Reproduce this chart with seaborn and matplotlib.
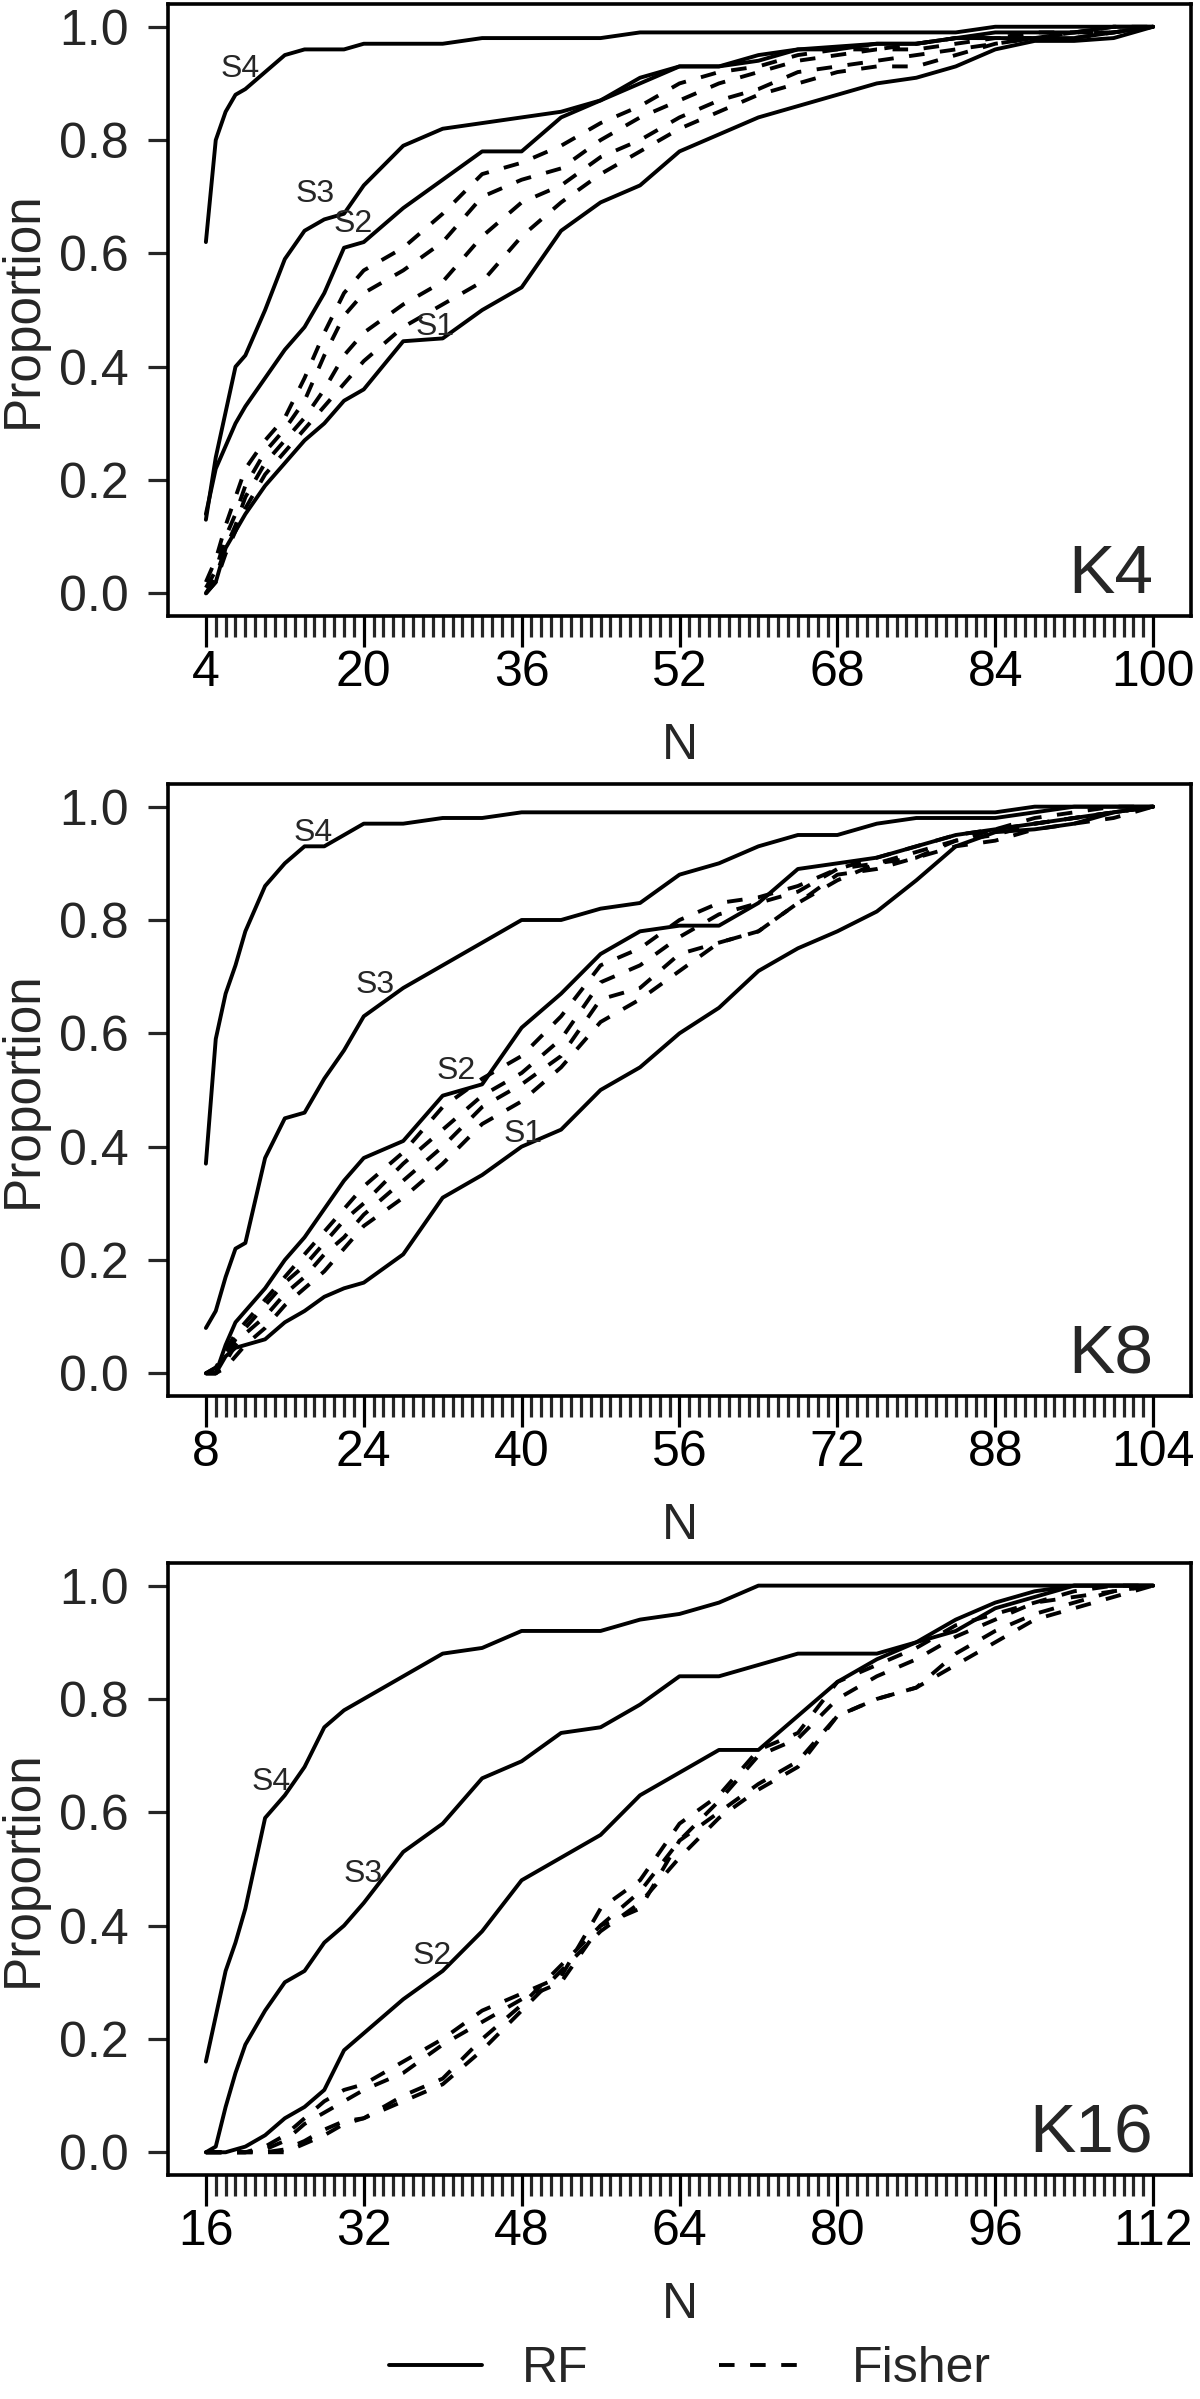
import numpy as np
import pandas as pd
import matplotlib as mpl
mpl.use("Agg")
import matplotlib.pyplot as plt
import seaborn as sns
from matplotlib.lines import Line2D
from matplotlib.ticker import FormatStrFormatter

# ---- data ----
n_k4 = [4, 5, 6, 7, 8, 10, 12, 14, 16, 18, 20, 24, 28, 32, 36, 40, 44, 48, 52, 56,
        60, 64, 68, 72, 76, 80, 84, 88, 92, 96, 100]
k4_rf_s4 = [.62, .80, .85, .88, .89, .92, .95, .96, .96, .96, .97, .97, .97, .98, .98, .98,
            .98, .99, .99, .99, .99, .99, .99, .99, .99, .99, 1.0, 1.0, 1.0, 1.0, 1.0]
k4_rf_s3 = [.13, .24, .32, .40, .42, .50, .59, .64, .66, .67, .72, .79, .82, .83, .84, .85,
            .87, .91, .93, .93, .94, .96, .965, .97, .97, .98, .99, .99, .99, 1.0, 1.0]
k4_rf_s2 = [.14, .22, .26, .30, .33, .38, .43, .47, .53, .61, .62, .68, .73, .78, .78, .84,
            .87, .90, .93, .93, .95, .96, .96, .97, .97, .98, .98, .98, .98, .99, 1.0]
k4_rf_s1 = [0, .02, .08, .11, .14, .19, .23, .27, .30, .34, .36, .445, .45, .50, .54, .64,
            .69, .72, .78, .81, .84, .86, .88, .90, .91, .93, .96, .975, .975, .98, 1.0]
k4_fi_a = [.02, .06, .12, .17, .22, .27, .31, .38, .46, .53, .57, .61, .67, .74, .76, .79,
           .83, .86, .90, .92, .93, .95, .96, .96, .97, .98, .98, .99, .99, 1.0, 1.0]
k4_fi_b = [.01, .04, .10, .14, .19, .25, .29, .34, .42, .49, .53, .57, .62, .70, .73, .75,
           .80, .84, .87, .90, .92, .94, .95, .96, .96, .97, .98, .98, .99, .99, 1.0]
k4_fi_c = [0, .03, .08, .12, .17, .23, .27, .31, .36, .42, .46, .51, .55, .63, .69, .72,
           .77, .80, .84, .87, .89, .92, .93, .94, .95, .96, .97, .98, .99, .99, 1.0]
k4_fi_d = [0, .02, .07, .11, .15, .21, .25, .29, .33, .37, .41, .47, .51, .55, .63, .69,
           .74, .78, .82, .85, .88, .90, .92, .93, .93, .95, .97, .98, .98, .99, 1.0]

n_k8 = [8, 9, 10, 11, 12, 14, 16, 18, 20, 22, 24, 28, 32, 36, 40, 44, 48, 52, 56, 60,
        64, 68, 72, 76, 80, 84, 88, 92, 96, 100, 104]
k8_rf_s4 = [.37, .59, .67, .72, .78, .86, .90, .93, .93, .95, .97, .97, .98, .98, .99, .99,
            .99, .99, .99, .99, .99, .99, .99, .99, .99, .99, .99, 1.0, 1.0, 1.0, 1.0]
k8_rf_s3 = [.08, .11, .17, .22, .23, .38, .45, .46, .52, .57, .63, .68, .72, .76, .80, .80,
            .82, .83, .88, .90, .93, .95, .95, .97, .98, .98, .98, .99, 1.0, 1.0, 1.0]
k8_rf_s2 = [0, 0, .05, .09, .11, .15, .20, .24, .29, .34, .38, .41, .49, .51, .61, .67,
            .74, .78, .79, .79, .83, .89, .90, .91, .93, .95, .96, .97, .98, .99, 1.0]
k8_rf_s1 = [0, 0, .03, .045, .05, .06, .09, .11, .135, .15, .16, .21, .31, .35, .40, .43,
            .50, .54, .60, .645, .71, .75, .78, .815, .87, .93, .955, .96, .97, .99, 1.0]
k8_fi_a = [0, .01, .04, .07, .09, .13, .17, .21, .25, .29, .33, .39, .47, .52, .56, .63,
           .72, .75, .80, .83, .84, .86, .89, .91, .93, .95, .96, .98, .99, 1.0, 1.0]
k8_fi_b = [0, .01, .03, .06, .08, .12, .16, .19, .23, .27, .30, .37, .43, .49, .53, .59,
           .69, .72, .77, .81, .83, .85, .89, .90, .92, .94, .96, .97, .98, .99, 1.0]
k8_fi_c = [0, 0, .02, .05, .07, .10, .14, .17, .21, .24, .28, .34, .40, .47, .51, .56,
           .66, .68, .74, .76, .78, .83, .87, .90, .91, .94, .95, .97, .98, .99, 1.0]
k8_fi_d = [0, 0, .01, .03, .05, .08, .12, .15, .18, .22, .26, .31, .37, .44, .48, .54,
           .62, .66, .71, .76, .78, .83, .88, .89, .91, .93, .94, .96, .97, .98, 1.0]

n_k16 = [16, 17, 18, 19, 20, 22, 24, 26, 28, 30, 32, 36, 40, 44, 48, 52, 56, 60, 64, 68,
         72, 76, 80, 84, 88, 92, 96, 100, 104, 108, 112]
k16_rf_s4 = [.16, .24, .32, .37, .43, .59, .63, .68, .75, .78, .80, .84, .88, .89, .92, .92,
             .92, .94, .95, .97, 1.0, 1.0, 1.0, 1.0, 1.0, 1.0, 1.0, 1.0, 1.0, 1.0, 1.0]
k16_rf_s3 = [0, .01, .08, .14, .19, .25, .30, .32, .37, .40, .44, .53, .58, .66, .69, .74,
             .75, .79, .84, .84, .86, .88, .88, .88, .90, .92, .96, .98, 1.0, 1.0, 1.0]
k16_rf_s2 = [0, 0, 0, .005, .01, .03, .06, .08, .11, .18, .21, .27, .32, .39, .48, .52,
             .56, .63, .67, .71, .71, .77, .83, .87, .90, .94, .97, .99, 1.0, 1.0, 1.0]
k16_fi_a = [0, 0, 0, 0, 0, .01, .03, .06, .09, .11, .12, .16, .20, .25, .28, .31,
            .43, .48, .58, .63, .71, .74, .83, .86, .89, .93, .95, .97, .99, 1.0, 1.0]
k16_fi_b = [0, 0, 0, 0, 0, .005, .02, .05, .07, .09, .11, .14, .19, .23, .27, .30,
            .40, .46, .55, .62, .70, .73, .80, .84, .87, .91, .94, .97, .98, .99, 1.0]
k16_fi_c = [0, 0, 0, 0, 0, 0, .005, .02, .04, .055, .06, .10, .13, .20, .26, .33,
            .40, .43, .55, .60, .65, .69, .77, .80, .82, .88, .92, .95, .97, .99, 1.0]
k16_fi_d = [0, 0, 0, 0, 0, 0, 0, .015, .03, .05, .06, .09, .12, .18, .25, .32,
            .39, .44, .52, .59, .64, .68, .77, .80, .82, .86, .90, .94, .96, .98, 1.0]

# curve labels (N, proportion)
k4_labels = {"S4": (7.5, .926), "S3": (15.1, .705), "S2": (18.9, .652), "S1": (27.2, .47)}
k8_labels = {"S4": (18.9, .954), "S3": (25.1, .686), "S2": (33.4, .533), "S1": (40.1, .422)}
k16_labels = {"S4": (22.6, .654), "S3": (31.9, .491), "S2": (38.9, .346)}

panels = [
    ("K4", 4, n_k4,
     {"RF_S4": k4_rf_s4, "RF_S3": k4_rf_s3, "RF_S2": k4_rf_s2, "RF_S1": k4_rf_s1,
      "Fisher_a": k4_fi_a, "Fisher_b": k4_fi_b, "Fisher_c": k4_fi_c, "Fisher_d": k4_fi_d},
     k4_labels),
    ("K8", 8, n_k8,
     {"RF_S4": k8_rf_s4, "RF_S3": k8_rf_s3, "RF_S2": k8_rf_s2, "RF_S1": k8_rf_s1,
      "Fisher_a": k8_fi_a, "Fisher_b": k8_fi_b, "Fisher_c": k8_fi_c, "Fisher_d": k8_fi_d},
     k8_labels),
    ("K16", 16, n_k16,
     {"RF_S4": k16_rf_s4, "RF_S3": k16_rf_s3, "RF_S2": k16_rf_s2,
      "Fisher_a": k16_fi_a, "Fisher_b": k16_fi_b, "Fisher_c": k16_fi_c, "Fisher_d": k16_fi_d},
     k16_labels),
]

sns.set_theme(style="ticks")
plt.rcParams["font.family"] = ["Liberation Sans", "DejaVu Sans"]
plt.rcParams["axes.linewidth"] = 2.6

LW = 2.8
DASH = (4, 4)
fig = plt.figure(figsize=(12, 23.99), dpi=100)
bottoms = [0.7432, 0.4181, 0.0934]

for (name, k, nvals, curves, labels), bot in zip(panels, bottoms):
    ax = fig.add_axes([0.14, bot, 0.8525, 0.2551])
    rows = []
    for cname, vals in curves.items():
        method = cname.split("_")[0]
        for n, v in zip(nvals, vals):
            rows.append({"N": n, "Proportion": v, "curve": cname, "method": method})
    df = pd.DataFrame(rows)
    sns.lineplot(data=df, x="N", y="Proportion", units="curve", estimator=None,
                 style="method", dashes={"RF": "", "Fisher": DASH},
                 color="black", lw=LW, legend=False, ax=ax, sort=False)

    ax.set_xlim(k - 3.84, k + 99.84)
    ax.set_ylim(-0.04, 1.04)
    ax.set_xticks(list(range(k, k + 97, 16)))
    ax.set_xticks(list(range(k, k + 97)), minor=True)
    ax.set_yticks([0, .2, .4, .6, .8, 1.0])
    ax.yaxis.set_major_formatter(FormatStrFormatter("%.1f"))
    ax.tick_params(axis="x", which="major", length=22.5, width=2.3, labelsize=36, pad=2,
                   direction="out", colors="black")
    ax.tick_params(axis="x", which="minor", length=15, width=2.3, direction="out")
    ax.tick_params(axis="y", length=14.4, width=2.3, labelsize=36, pad=14, direction="out")
    for sp in ax.spines.values():
        sp.set_visible(True)
        sp.set_linewidth(2.6)
        sp.set_color("black")

    ax.set_xlabel("")
    ax.text(0.5, -0.2124, "N", transform=ax.transAxes, ha="center", va="center",
            fontsize=36)
    ax.set_ylabel("Proportion", fontsize=37, va="center")
    ax.yaxis.set_label_coords(-0.1417, 0.5)

    ax.text(k + 96, 0, name, ha="right", va="baseline", fontsize=50)
    for lab, (lx, ly) in labels.items():
        ax.text(lx, ly, lab, ha="center", va="center", fontsize=23)

handles = [Line2D([], [], color="black", lw=LW),
           Line2D([], [], color="black", lw=LW, ls=(0, DASH))]
fig.legend(handles, ["RF", "Fisher"], loc="center", bbox_to_anchor=(0.575, 0.0125),
           ncol=2, frameon=False, fontsize=36, handlelength=1.87, handletextpad=0.8,
           columnspacing=2.6)

fig.savefig("out.png", dpi=100)
